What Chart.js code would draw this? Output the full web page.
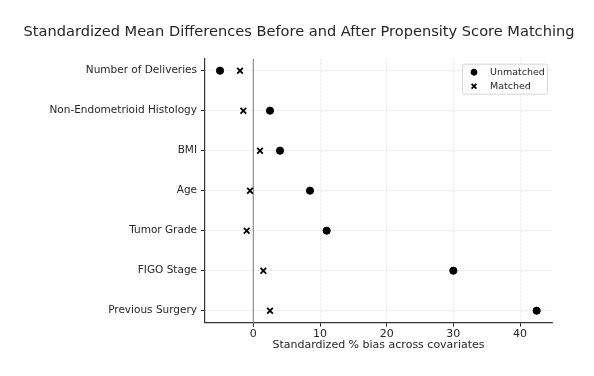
<!DOCTYPE html>
<html>
<head>
<meta charset="utf-8">
<script src="https://cdn.jsdelivr.net/npm/chart.js@4/dist/chart.umd.min.js"></script>
<style>
html,body{margin:0;padding:0;background:#fff;}
#wrap{width:594px;height:376px;}
</style>
</head>
<body>
<div id="wrap"><canvas id="c" width="594" height="376"></canvas></div>
<script>
const categories = ["Number of Deliveries","Non-Endometrioid Histology","BMI","Age","Tumor Grade","FIGO Stage","Previous Surgery"];
const unmatched = [-5.0, 2.5, 4.0, 8.5, 11.0, 30.0, 42.5];
const matched = [-2.0, -1.5, 1.0, -0.5, -1.0, 1.5, 2.5];
const xTicks = [0, 10, 20, 30, 40];
const seriesNames = ["Unmatched", "Matched"];
const chartTitle = 'Standardized Mean Differences Before and After Propensity Score Matching';

const FONT = "'DejaVu Sans', sans-serif";
const TXT = '#262626';

const zeroLine = {
  id: 'zeroLine',
  beforeDatasetsDraw(chart) {
    const {ctx, chartArea, scales} = chart;
    const x = scales.x.getPixelForValue(0);
    ctx.save();
    ctx.strokeStyle = '#8c8c8c';
    ctx.lineWidth = 1.2;
    ctx.beginPath();
    ctx.moveTo(x, chartArea.top);
    ctx.lineTo(x, chartArea.bottom);
    ctx.stroke();
    ctx.restore();
  }
};

const titlePlugin = {
  id: 'titlePlugin',
  afterDraw(chart) {
    const {ctx} = chart;
    ctx.save();
    ctx.font = "14.6px " + FONT;
    ctx.fillStyle = TXT;
    ctx.textAlign = 'center';
    ctx.textBaseline = 'middle';
    ctx.fillText(chartTitle, chart.width / 2 + 2, 32);
    ctx.restore();
  }
};

const customLegend = {
  id: 'customLegend',
  afterDraw(chart) {
    const {ctx, chartArea} = chart;
    const w = 85, h = 30;
    const x0 = chartArea.right - 5 - w, y0 = chartArea.top + 5;
    ctx.save();
    ctx.fillStyle = 'rgba(255,255,255,0.85)';
    ctx.strokeStyle = '#d6d6d6';
    ctx.lineWidth = 1;
    ctx.beginPath();
    if (ctx.roundRect) ctx.roundRect(x0 + 0.5, y0 + 0.5, w, h, 2); else ctx.rect(x0 + 0.5, y0 + 0.5, w, h);
    ctx.fill();
    ctx.stroke();
    ctx.font = "9.5px " + FONT;
    ctx.textBaseline = 'middle';
    chart.data.datasets.forEach((ds, i) => {
      const cy = y0 + 8.5 + i * 14;
      ctx.fillStyle = '#000';
      ctx.strokeStyle = '#000';
      ctx.lineWidth = ds.borderWidth;
      Chart.helpers.drawPoint(ctx, {
        pointStyle: ds.pointStyle, radius: ds.pointRadius - 0.6, borderWidth: ds.borderWidth,
        rotation: 0
      }, x0 + 12, cy);
      ctx.fillStyle = TXT;
      ctx.fillText(ds.label, x0 + 28, cy);
    });
    ctx.restore();
  }
};

new Chart(document.getElementById('c'), {
  type: 'scatter',
  data: {
    datasets: [
      {
        label: seriesNames[0],
        data: unmatched.map((v, i) => ({x: v, y: i})),
        pointStyle: 'circle',
        pointRadius: 3.6,
        backgroundColor: '#000',
        borderColor: '#000',
        borderWidth: 1
      },
      {
        label: seriesNames[1],
        data: matched.map((v, i) => ({x: v, y: i})),
        pointStyle: 'crossRot',
        pointRadius: 4,
        backgroundColor: '#000',
        borderColor: '#000',
        borderWidth: 1.8
      }
    ]
  },
  options: {
    responsive: false,
    animation: false,
    devicePixelRatio: 1,
    layout: {padding: {left: 0, right: 42, top: 58.7, bottom: 24}},
    plugins: {
      legend: {display: false},
      tooltip: {enabled: false},
      title: {display: false}
    },
    scales: {
      x: {
        type: 'linear',
        min: -7.25,
        max: 44.8,
        afterBuildTicks(scale) { scale.ticks = xTicks.map(v => ({value: v})); },
        afterFit(scale) { scale.height = 29.3; },
        ticks: {color: TXT, font: {family: FONT, size: 11}, padding: 1, maxRotation: 0},
        grid: {color: '#e0e0e0', lineWidth: 0.8, tickColor: '#333', tickLength: 4, tickWidth: 1},
        border: {display: true, color: '#333', width: 1.2, dash: [2, 2]},
        title: {display: true, text: 'Standardized % bias across covariates', color: TXT,
          font: {family: FONT, size: 11}, padding: {top: 0, bottom: 0}}
      },
      y: {
        type: 'linear',
        min: -0.3,
        max: 6.3,
        reverse: true,
        afterBuildTicks(scale) { scale.ticks = categories.map((c, i) => ({value: i})); },
        afterFit(scale) { scale.width = 205; },
        ticks: {
          color: TXT, font: {family: FONT, size: 10.5}, padding: 4,
          callback: (v) => categories[v]
        },
        grid: {color: '#dcdcdc', lineWidth: 0.8, tickColor: '#333', tickLength: 4, tickWidth: 1},
        border: {display: true, color: '#333', width: 1.2, dash: [2, 2]}
      }
    }
  },
  plugins: [zeroLine, customLegend, titlePlugin]
});
</script>
</body>
</html>
